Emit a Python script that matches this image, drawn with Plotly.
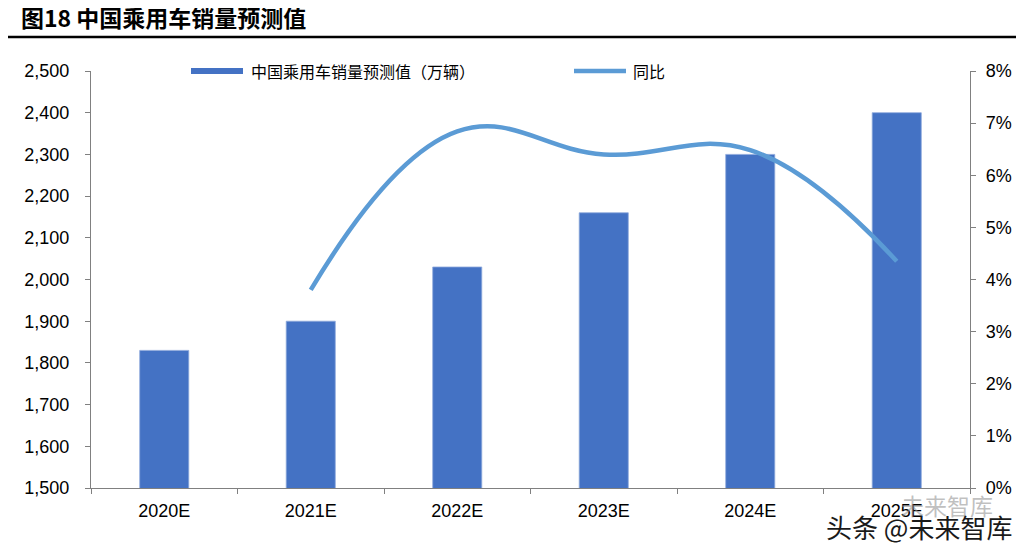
import plotly.graph_objects as go

# data
years = ["2020E", "2021E", "2022E", "2023E", "2024E", "2025E"]
sales = [1830, 1900, 2030, 2160, 2300, 2400]          # 万辆
yoy_years = ["2021E", "2022E", "2023E", "2024E", "2025E"]
yoy = [0.038, 0.0684, 0.064, 0.0648, 0.0435]

left_ticks = [1500, 1600, 1700, 1800, 1900, 2000, 2100, 2200, 2300, 2400, 2500]
right_ticks = [0, 0.01, 0.02, 0.03, 0.04, 0.05, 0.06, 0.07, 0.08]

BAR = "#4472C4"
LINE = "#5B9BD5"
CJK = "Noto Sans CJK SC"
TICK_FONT = dict(family="Arial, Liberation Sans", size=18, color="#000000")

# page body adds an 8px offset, so the margins are shifted to compensate
PLOT_W, PLOT_H = 879, 417


def px(x):
    return (x - 91) / PLOT_W


def py(y):
    return (488 - y) / PLOT_H


fig = go.Figure()

fig.add_trace(go.Bar(
    x=years, y=sales,
    name="中国乘用车销量预测值（万辆）",
    marker=dict(color=BAR, line=dict(color="#8FAADC", width=0.8)),
    yaxis="y",
))

fig.add_trace(go.Scatter(
    x=yoy_years, y=yoy,
    name="同比",
    mode="lines",
    line=dict(color=LINE, width=4.5, shape="spline", smoothing=1.2),
    yaxis="y2",
))

axis_line = dict(showline=True, linecolor="#808080", linewidth=1.2,
                 ticks="outside", ticklen=5, tickcolor="#808080",
                 showgrid=False, zeroline=False, tickfont=TICK_FONT)

fig.update_layout(
    width=1029, height=551,
    margin=dict(l=83, r=67, t=63, b=71),
    paper_bgcolor="white", plot_bgcolor="white",
    bargap=0.665,
    showlegend=False,
    xaxis=dict(**axis_line, tickson="boundaries", type="category",
               ticklabelstandoff=6),
    yaxis=dict(**axis_line, range=[1500, 2500], tickvals=left_ticks,
               tickformat=",d", ticklabelstandoff=12),
    yaxis2=dict(**axis_line, overlaying="y", side="right", range=[0, 0.08],
                tickvals=right_ticks, tickformat=".0%", ticklabelstandoff=6),
    font=dict(family="Arial"),
)

# hand-drawn legend (wide swatches like the original)
fig.add_shape(type="rect", xref="paper", yref="paper",
              x0=px(191), x1=px(243), y0=py(74), y1=py(68),
              fillcolor=BAR, line=dict(width=0))
fig.add_annotation(text="中国乘用车销量预测值（万辆）", xref="paper", yref="paper",
                   x=px(249), y=py(71), xanchor="left", yanchor="middle",
                   showarrow=False, font=dict(family=CJK, size=16, color="#000000"))
fig.add_shape(type="line", xref="paper", yref="paper",
              x0=px(574), x1=px(626), y0=py(71), y1=py(71),
              line=dict(color=LINE, width=4.5))
fig.add_annotation(text="同比", xref="paper", yref="paper",
                   x=px(631), y=py(71), xanchor="left", yanchor="middle",
                   showarrow=False, font=dict(family=CJK, size=16, color="#000000"))

# title and rule under it
fig.add_annotation(
    text="<b>图18 中国乘用车销量预测值</b>", xref="paper", yref="paper",
    x=px(19), y=py(17), xanchor="left", yanchor="middle", showarrow=False,
    font=dict(family=CJK, size=23, color="#000000"),
)
fig.add_shape(type="line", xref="paper", yref="paper", x0=px(5), x1=px(1016),
              y0=py(37), y1=py(37), line=dict(color="#000000", width=2.5))

# watermark
fig.add_annotation(
    text="未来智库", xref="paper", yref="paper", x=px(947), y=py(505),
    xanchor="center", yanchor="middle",
    showarrow=False, font=dict(family=CJK, size=23, color="rgba(150,150,150,0.6)"),
)
fig.add_annotation(
    text="头条 @未来智库", xref="paper", yref="paper", x=px(919), y=py(526),
    xanchor="center", yanchor="middle",
    showarrow=False, font=dict(family=CJK, size=26, color="#1a1a1a"),
)

fig.write_html("out.html")
